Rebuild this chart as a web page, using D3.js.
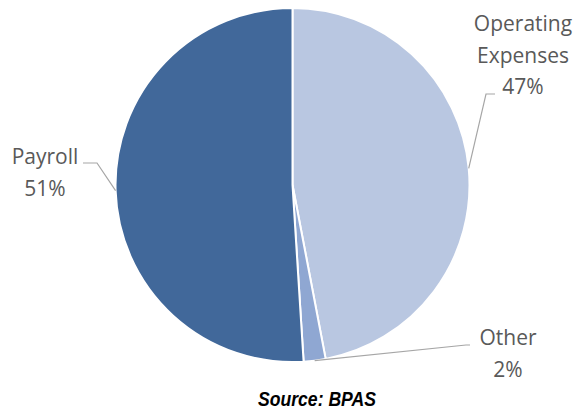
<!DOCTYPE html>
<html><head><meta charset="utf-8">
<script src="https://cdn.jsdelivr.net/npm/d3@7"></script>
<style>html,body{margin:0;padding:0;background:#fff;}</style>
</head><body>
<svg id="chart" width="577" height="414"></svg>
<script>
const categories = ["Operating Expenses", "Other", "Payroll"];
const values = [47, 2, 51];
const labelLines = [["Operating", "Expenses", "47%"], ["Other", "2%"], ["Payroll", "51%"]];
const colors = ["#b9c7e1", "#8fa7d2", "#41689a"];
const sourceText = "Source: BPAS";

const svg = d3.select("#chart");
const cx = 292.5, cy = 185, r = 177;
const g = svg.append("g").attr("transform", `translate(${cx},${cy})`);

const pie = d3.pie().sort(null).value(d => d)(values);
const arc = d3.arc().innerRadius(0).outerRadius(r);

g.selectAll("path.slice").data(pie).enter().append("path")
  .attr("class", "slice")
  .attr("d", arc)
  .attr("fill", (d, i) => colors[i])
  .attr("stroke", "#fff").attr("stroke-width", 2);

// label placements (relative to pie centre)
const labelPos = [
  {x: 523 - cx, y: 31 - cy, elbow: [486 - cx, 94 - cy], end: [495 - cx, 94 - cy]},
  {x: 508 - cx, y: 345 - cy, elbow: [466 - cx, 345 - cy], end: [470 - cx, 345 - cy]},
  {x: 45 - cx, y: 164 - cy, elbow: [97 - cx, 163 - cy], end: [83 - cx, 163 - cy]}
];

pie.forEach((d, i) => {
  const a = (d.startAngle + d.endAngle) / 2;
  const px = r * Math.sin(a), py = -r * Math.cos(a);
  const p = labelPos[i];
  g.append("polyline")
    .attr("points", [[px, py], p.elbow, p.end].map(q => q.join(",")).join(" "))
    .attr("fill", "none").attr("stroke", "#a6a6a6").attr("stroke-width", 1.2);
  const t = g.append("text")
    .attr("text-anchor", "middle")
    .attr("font-family", "'Open Sans', sans-serif")
    .attr("font-size", 21)
    .attr("fill", "#595959");
  labelLines[i].forEach((ln, k) => {
    t.append("tspan").attr("x", p.x).attr("y", p.y + k * 31.5).text(ln);
  });
});

svg.append("text")
  .attr("x", 317).attr("y", 406)
  .attr("text-anchor", "middle")
  .attr("font-family", "'Liberation Sans', Arial, sans-serif")
  .attr("font-weight", "bold").attr("font-style", "italic")
  .attr("font-size", 20).attr("fill", "#000")
  .attr("textLength", 118).attr("lengthAdjust", "spacingAndGlyphs")
  .text(sourceText);
</script>
</body></html>
